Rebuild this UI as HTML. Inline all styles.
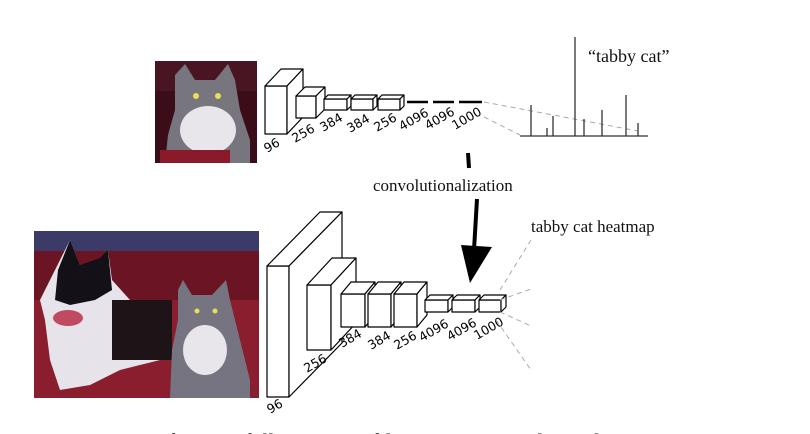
<!DOCTYPE html>
<html><head><meta charset="utf-8"><style>
html,body{margin:0;padding:0;background:#fff;}
svg{display:block;}
.b{fill:#fff;stroke:#000;stroke-width:1.2;stroke-linejoin:round}
.l{font-family:"DejaVu Sans","Liberation Sans",sans-serif;font-size:12.5px;fill:#000}
.s{font-family:"Liberation Serif",serif;fill:#111}
.d{stroke:#aaa;stroke-width:1;stroke-dasharray:5,4;fill:none}
</style></head><body>
<svg width="810" height="434" viewBox="0 0 810 434" xmlns="http://www.w3.org/2000/svg">
<!-- top photo -->
<rect x="155" y="61" width="102" height="102" fill="#3a0d18"/>
<rect x="155" y="61" width="102" height="30" fill="#4a1522"/>
<path d="M175 75 L185 64 L195 80 L215 80 L228 64 L235 80 L240 110 L250 140 L250 163 L165 163 L168 135 L175 110 Z" fill="#77757d"/>
<ellipse cx="208" cy="130" rx="28" ry="24" fill="#e8e6ea"/>
<rect x="160" y="150" width="70" height="13" fill="#8a1a2a"/>
<circle cx="196" cy="96" r="3" fill="#e8e050"/><circle cx="218" cy="96" r="3" fill="#e8e050"/>
<!-- top network -->
<rect class="b" x="265" y="86" width="22" height="48"/>
<polygon class="b" points="265,86 281,69 303,69 287,86"/>
<polygon class="b" points="287,86 303,69 303,117 287,134"/>
<rect class="b" x="296" y="96" width="20" height="22"/>
<polygon class="b" points="296,96 305,87 325,87 316,96"/>
<polygon class="b" points="316,96 325,87 325,109 316,118"/>
<rect class="b" x="324" y="99" width="23" height="11"/>
<polygon class="b" points="324,99 328,95 351,95 347,99"/>
<polygon class="b" points="347,99 351,95 351,106 347,110"/>
<rect class="b" x="351" y="99" width="22" height="11"/>
<polygon class="b" points="351,99 355,95 377,95 373,99"/>
<polygon class="b" points="373,99 377,95 377,106 373,110"/>
<rect class="b" x="378" y="99" width="22" height="11"/>
<polygon class="b" points="378,99 382,95 404,95 400,99"/>
<polygon class="b" points="400,99 404,95 404,106 400,110"/>
<g stroke="#000" stroke-width="2.5">
<line x1="407" y1="102" x2="428" y2="102"/><line x1="433" y1="102" x2="454" y2="102"/><line x1="459" y1="102" x2="482" y2="102"/>
</g>
<g class="l">
<text transform="translate(267,153) rotate(-30)">96</text>
<text transform="translate(295,143) rotate(-30)">256</text>
<text transform="translate(323,132) rotate(-30)">384</text>
<text transform="translate(350,133) rotate(-30)">384</text>
<text transform="translate(377,132) rotate(-30)">256</text>
<text transform="translate(402,131) rotate(-30)">4096</text>
<text transform="translate(428,130) rotate(-30)">4096</text>
<text transform="translate(455,130) rotate(-30)">1000</text>
</g>
<line class="d" x1="484" y1="102" x2="638" y2="131"/>
<line class="d" x1="484" y1="117" x2="520" y2="135"/>
<g stroke="#333" stroke-width="1.3">
<line x1="520" y1="136" x2="648" y2="136"/>
<line x1="531" y1="136" x2="531" y2="105"/>
<line x1="547" y1="136" x2="547" y2="128"/>
<line x1="553" y1="136" x2="553" y2="116"/>
<line x1="575" y1="136" x2="575" y2="37"/>
<line x1="584" y1="136" x2="584" y2="119"/>
<line x1="602" y1="136" x2="602" y2="110"/>
<line x1="626" y1="136" x2="626" y2="95"/>
<line x1="638" y1="136" x2="638" y2="123"/>
</g>
<text class="s" x="588" y="62" font-size="18">“tabby cat”</text>
<!-- arrow -->
<line x1="468" y1="153" x2="469" y2="168" stroke="#000" stroke-width="4"/>
<text class="s" x="373" y="191" font-size="17">convolutionalization</text>
<line x1="477" y1="199" x2="474" y2="250" stroke="#000" stroke-width="4"/>
<polygon points="461,245 492,247 470,283" fill="#000"/>
<!-- bottom photo -->
<rect x="34" y="231" width="225" height="167" fill="#6a1424"/>
<rect x="34" y="231" width="225" height="20" fill="#3c3a66"/>
<rect x="34" y="300" width="225" height="98" fill="#8a1e2e"/>
<path d="M55 270 L70 240 L80 265 L100 260 L108 250 L112 280 L130 300 L160 300 L170 330 L160 360 L120 370 L90 385 L60 390 L50 360 L45 320 L40 300 Z" fill="#e6e4ea"/>
<path d="M58 270 L70 240 L80 265 L100 258 L108 250 L112 290 L95 300 L70 305 L55 300 Z" fill="#141018"/>
<ellipse cx="68" cy="318" rx="15" ry="8" fill="#c04a60"/>
<rect x="112" y="300" width="60" height="60" fill="#1e1418"/>
<path d="M178 290 L183 280 L192 295 L212 295 L226 280 L230 300 L240 340 L250 380 L250 398 L170 398 L172 350 L178 320 Z" fill="#767480"/>
<ellipse cx="205" cy="350" rx="22" ry="25" fill="#e8e6ea"/>
<circle cx="197" cy="311" r="2.5" fill="#e8e050"/><circle cx="215" cy="311" r="2.5" fill="#e8e050"/>
<!-- bottom network -->
<rect class="b" x="267" y="266" width="22" height="131"/>
<polygon class="b" points="267,266 320,212 342,212 289,266"/>
<polygon class="b" points="289,266 342,212 342,343 289,397"/>
<rect class="b" x="307" y="285" width="24" height="65"/>
<polygon class="b" points="307,285 332,258 356,258 331,285"/>
<polygon class="b" points="331,285 356,258 356,323 331,350"/>
<rect class="b" x="341" y="294" width="24" height="33"/>
<polygon class="b" points="341,294 351,282 375,282 365,294"/>
<polygon class="b" points="365,294 375,282 375,315 365,327"/>
<rect class="b" x="368" y="294" width="23" height="33"/>
<polygon class="b" points="368,294 378,282 401,282 391,294"/>
<polygon class="b" points="391,294 401,282 401,315 391,327"/>
<rect class="b" x="394" y="294" width="23" height="33"/>
<polygon class="b" points="394,294 404,282 427,282 417,294"/>
<polygon class="b" points="417,294 427,282 427,315 417,327"/>
<rect class="b" x="425" y="300" width="23" height="12"/>
<polygon class="b" points="425,300 430,295 453,295 448,300"/>
<polygon class="b" points="448,300 453,295 453,307 448,312"/>
<rect class="b" x="452" y="300" width="23" height="12"/>
<polygon class="b" points="452,300 457,295 480,295 475,300"/>
<polygon class="b" points="475,300 480,295 480,307 475,312"/>
<rect class="b" x="479" y="300" width="22" height="12"/>
<polygon class="b" points="479,300 484,295 506,295 501,300"/>
<polygon class="b" points="501,300 506,295 506,307 501,312"/>
<g class="l">
<text transform="translate(270,414) rotate(-30)">96</text>
<text transform="translate(307,373) rotate(-30)">256</text>
<text transform="translate(342,348) rotate(-30)">384</text>
<text transform="translate(371,350) rotate(-30)">384</text>
<text transform="translate(397,350) rotate(-30)">256</text>
<text transform="translate(422,342) rotate(-30)">4096</text>
<text transform="translate(450,341) rotate(-30)">4096</text>
<text transform="translate(477,340) rotate(-30)">1000</text>
</g>
<line class="d" x1="500" y1="290" x2="531" y2="240"/>
<line class="d" x1="500" y1="300" x2="531" y2="289"/>
<line class="d" x1="500" y1="312" x2="531" y2="326"/>
<line class="d" x1="496" y1="320" x2="531" y2="370"/>
<text class="s" x="531" y="232" font-size="17">tabby cat heatmap</text>
<!-- caption (cut off) -->
<text class="s" x="34" y="449" font-size="22">Figure 2.   Transforming fully connected layers into convolution layers</text>
</svg>
</body></html>
